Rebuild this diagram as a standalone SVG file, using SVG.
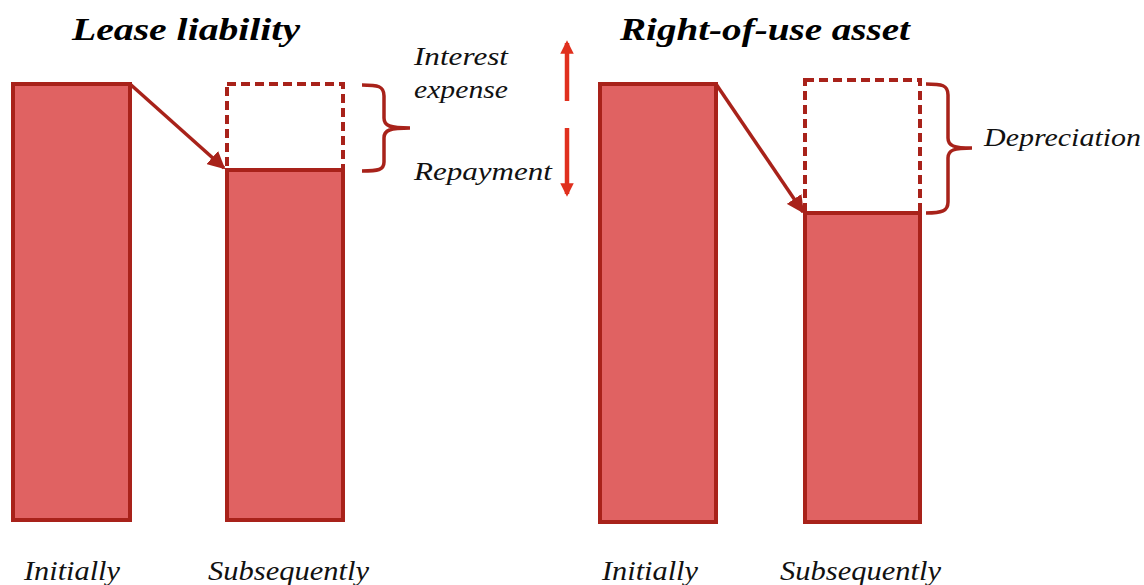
<svg xmlns="http://www.w3.org/2000/svg" width="1144" height="585" viewBox="0 0 1144 585">
<defs>
<style>
.bar{fill:#e06262;stroke:#a8221a;stroke-width:4}
.dash{fill:none;stroke:#a8221a;stroke-width:4;stroke-dasharray:9 5}
.line{fill:none;stroke:#a8221a;stroke-width:3.5}
.brace{fill:none;stroke:#a8221a;stroke-width:3.5}
.red{fill:none;stroke:#e0301e;stroke-width:4.5}
.title{font-family:"Liberation Serif",serif;font-style:italic;font-weight:bold;font-size:31px;fill:#000}
.lbl{font-family:"Liberation Serif",serif;font-style:italic;font-size:25px;fill:#111}
.cap{font-family:"Liberation Serif",serif;font-style:italic;font-size:27px;fill:#111}
</style>
<marker id="ah" viewBox="0 0 10 10" refX="9" refY="5" markerWidth="5" markerHeight="5" orient="auto" markerUnits="strokeWidth">
<path d="M0,0 L10,5 L0,10 z" fill="#a8221a"/>
</marker>
<marker id="rh" viewBox="0 0 10 10" refX="8" refY="5" markerWidth="3.2" markerHeight="3" orient="auto" markerUnits="strokeWidth">
<path d="M0,0 L10,5 L0,10 z" fill="#e0301e"/>
</marker>
</defs>
<g id="title-lease"><text class="title" x="186" y="40" text-anchor="middle" textLength="228" lengthAdjust="spacingAndGlyphs">Lease liability</text></g>
<g id="title-rou"><text class="title" x="765" y="40" text-anchor="middle" textLength="290" lengthAdjust="spacingAndGlyphs">Right-of-use asset</text></g>
<g id="lease-initial"><rect class="bar" x="13" y="84" width="117" height="436"/></g>
<g id="lease-subsequent-removed"><rect class="dash" x="227" y="84" width="116" height="86"/></g>
<g id="lease-subsequent"><rect class="bar" x="227" y="170" width="116" height="350"/></g>
<g id="rou-initial"><rect class="bar" x="600" y="84" width="116" height="438"/></g>
<g id="rou-subsequent-removed"><rect class="dash" x="805" y="80" width="115" height="133"/></g>
<g id="rou-subsequent"><rect class="bar" x="805" y="213" width="115" height="309"/></g>
<g id="connectors">
<line class="line" x1="130" y1="84" x2="224" y2="168" marker-end="url(#ah)"/>
<line class="line" x1="716" y1="84" x2="803" y2="212" marker-end="url(#ah)"/>
<path class="brace" d="M362,85 C378,85 384,86 384,96 L384,118 C384,126 390,128 410,128 C390,128 384,130 384,138 L384,162 C384,170 378,171 362,171"/>
<path class="brace" d="M926,84 C942,84 948,85 948,95 L948,138 C948,146 954,148 972,148 C954,148 948,150 948,158 L948,202 C948,211 942,213 926,213"/>
<line class="red" x1="567" y1="101" x2="567" y2="43" marker-end="url(#rh)"/>
<line class="red" x1="567" y1="128" x2="567" y2="194" marker-end="url(#rh)"/>
</g>
<g id="label-interest"><text class="lbl" x="414" y="65" textLength="94" lengthAdjust="spacingAndGlyphs">Interest</text><text class="lbl" x="414" y="98" textLength="94" lengthAdjust="spacingAndGlyphs">expense</text></g>
<g id="label-repayment"><text class="lbl" x="414" y="180" textLength="138" lengthAdjust="spacingAndGlyphs">Repayment</text></g>
<g id="label-depreciation"><text class="lbl" x="984" y="146" textLength="157" lengthAdjust="spacingAndGlyphs">Depreciation</text></g>
<g id="caption-lease-initial"><text class="cap" x="24" y="580" textLength="96" lengthAdjust="spacingAndGlyphs">Initially</text></g>
<g id="caption-lease-subsequent"><text class="cap" x="208" y="580" textLength="161" lengthAdjust="spacingAndGlyphs">Subsequently</text></g>
<g id="caption-rou-initial"><text class="cap" x="602" y="580" textLength="96" lengthAdjust="spacingAndGlyphs">Initially</text></g>
<g id="caption-rou-subsequent"><text class="cap" x="780" y="580" textLength="161" lengthAdjust="spacingAndGlyphs">Subsequently</text></g>
</svg>
